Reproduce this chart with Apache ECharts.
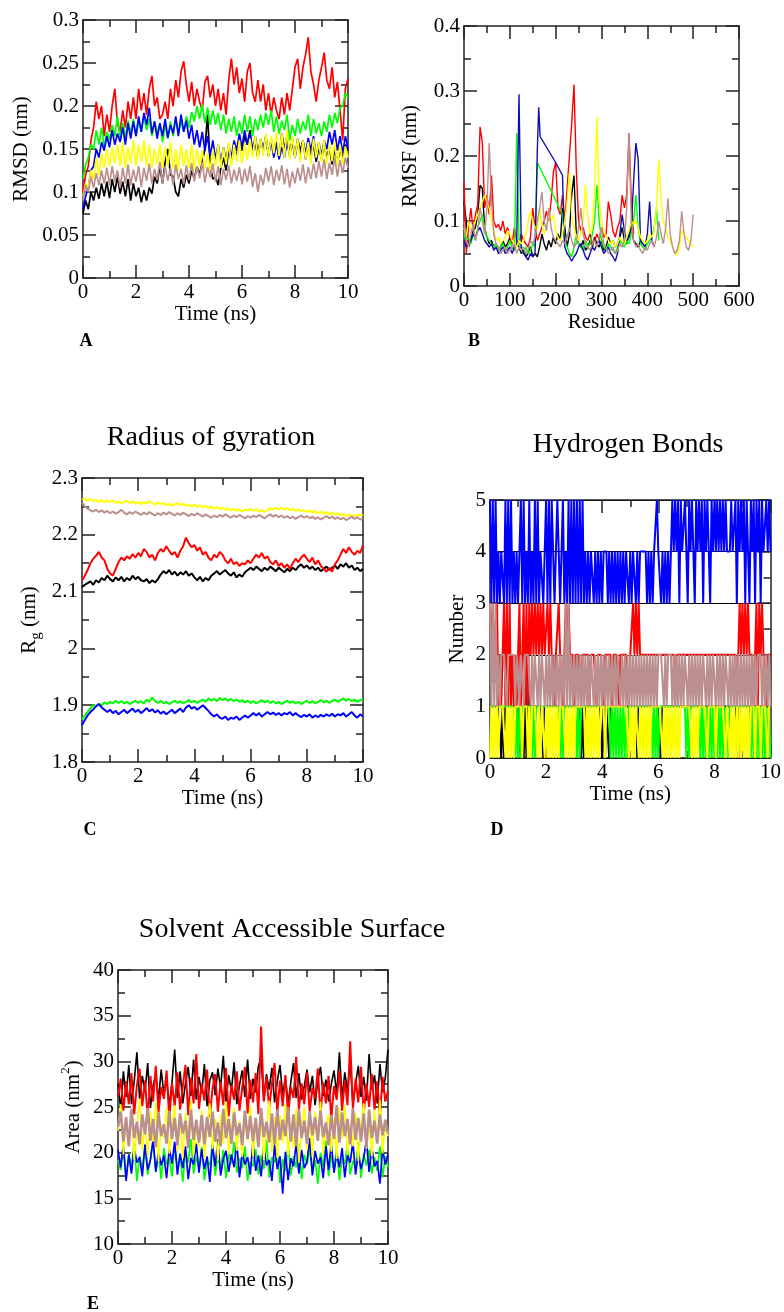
<!DOCTYPE html>
<html><head><meta charset="utf-8">
<script src="https://cdn.jsdelivr.net/npm/echarts@6.0.0/dist/echarts.min.js"></script>
<style>html,body{margin:0;padding:0;background:#fff}#c{width:784px;height:1312px}</style>
</head><body><div id="c"></div><script>
// ---------- Panel A: RMSD (t = 0..10 ns, step 0.1) ----------
const A_BLACK=[0.075,0.09,0.08,0.1,0.09,0.105,0.092,0.11,0.095,0.112,
0.093,0.115,0.1,0.118,0.098,0.112,0.095,0.115,0.09,0.11,
0.095,0.105,0.088,0.102,0.09,0.105,0.098,0.118,0.11,0.13,
0.11,0.135,0.15,0.12,0.118,0.1,0.095,0.115,0.105,0.12,
0.11,0.125,0.115,0.13,0.12,0.135,0.15,0.19,0.13,0.115,
0.118,0.108,0.128,0.14,0.125,0.15,0.135,0.155,0.14,0.16,
0.148,0.165,0.155,0.172,0.145,0.158,0.14,0.16,0.148,0.165,
0.142,0.162,0.145,0.158,0.14,0.168,0.15,0.165,0.145,0.16,
0.14,0.162,0.148,0.16,0.138,0.158,0.142,0.155,0.135,0.152,
0.138,0.155,0.14,0.152,0.132,0.15,0.135,0.148,0.14,0.155,0.148];
const A_RED=[0.1,0.12,0.13,0.16,0.175,0.205,0.185,0.2,0.165,0.19,
0.17,0.2,0.22,0.18,0.17,0.195,0.175,0.205,0.185,0.21,
0.185,0.22,0.195,0.215,0.19,0.22,0.235,0.2,0.21,0.185,
0.19,0.205,0.185,0.22,0.2,0.23,0.21,0.24,0.252,0.225,
0.205,0.228,0.2,0.22,0.205,0.195,0.228,0.235,0.21,0.225,
0.2,0.22,0.195,0.215,0.19,0.23,0.255,0.225,0.245,0.215,
0.232,0.205,0.24,0.25,0.215,0.205,0.23,0.205,0.225,0.195,
0.215,0.19,0.21,0.195,0.185,0.21,0.19,0.215,0.195,0.22,
0.245,0.255,0.22,0.245,0.26,0.28,0.24,0.225,0.205,0.23,
0.245,0.262,0.23,0.22,0.245,0.21,0.228,0.195,0.16,0.22,0.232];
const A_GREEN=[0.115,0.132,0.14,0.155,0.15,0.172,0.155,0.175,0.152,0.17,
0.16,0.178,0.165,0.188,0.162,0.18,0.163,0.183,0.168,0.185,
0.165,0.182,0.17,0.188,0.172,0.185,0.165,0.182,0.168,0.18,
0.158,0.178,0.162,0.182,0.165,0.185,0.168,0.183,0.17,0.188,
0.175,0.193,0.182,0.2,0.185,0.202,0.18,0.198,0.178,0.195,
0.178,0.192,0.172,0.19,0.168,0.185,0.17,0.188,0.165,0.183,
0.168,0.19,0.17,0.188,0.165,0.185,0.172,0.19,0.175,0.192,
0.178,0.195,0.17,0.188,0.168,0.183,0.172,0.19,0.16,0.178,
0.165,0.185,0.168,0.182,0.172,0.19,0.165,0.185,0.168,0.18,
0.165,0.182,0.17,0.19,0.175,0.192,0.18,0.198,0.2,0.215,0.21];
const A_BLUE=[0.08,0.095,0.105,0.125,0.13,0.15,0.14,0.158,0.148,0.165,
0.152,0.172,0.155,0.168,0.158,0.175,0.155,0.18,0.162,0.182,
0.165,0.188,0.17,0.192,0.178,0.198,0.168,0.182,0.162,0.18,
0.165,0.185,0.163,0.178,0.168,0.188,0.165,0.19,0.17,0.183,
0.162,0.178,0.155,0.172,0.152,0.17,0.148,0.165,0.142,0.16,
0.138,0.155,0.135,0.152,0.137,0.155,0.14,0.16,0.148,0.168,
0.152,0.172,0.155,0.168,0.148,0.165,0.145,0.162,0.15,0.165,
0.142,0.16,0.14,0.157,0.138,0.152,0.14,0.158,0.142,0.162,
0.14,0.158,0.143,0.16,0.145,0.163,0.148,0.165,0.14,0.158,
0.142,0.16,0.15,0.17,0.155,0.172,0.148,0.165,0.145,0.165,0.15];
const A_YELLOW=[0.095,0.11,0.105,0.125,0.115,0.14,0.12,0.145,0.128,0.15,
0.13,0.152,0.133,0.155,0.13,0.158,0.128,0.152,0.133,0.16,
0.13,0.155,0.135,0.16,0.13,0.155,0.128,0.15,0.132,0.155,
0.128,0.152,0.13,0.158,0.127,0.15,0.125,0.155,0.13,0.15,
0.128,0.155,0.125,0.15,0.13,0.148,0.127,0.145,0.125,0.15,
0.13,0.155,0.128,0.152,0.132,0.158,0.13,0.155,0.135,0.16,
0.133,0.157,0.137,0.162,0.14,0.165,0.138,0.163,0.142,0.168,
0.14,0.165,0.145,0.17,0.142,0.168,0.14,0.172,0.138,0.165,
0.14,0.162,0.135,0.16,0.138,0.158,0.133,0.162,0.14,0.158,
0.135,0.16,0.132,0.155,0.136,0.158,0.13,0.155,0.133,0.153,0.14];
const A_BROWN=[0.09,0.108,0.1,0.118,0.105,0.122,0.108,0.125,0.11,0.128,
0.108,0.13,0.112,0.125,0.105,0.128,0.11,0.132,0.108,0.126,
0.112,0.13,0.106,0.128,0.113,0.133,0.11,0.127,0.114,0.135,
0.11,0.13,0.113,0.128,0.108,0.132,0.115,0.127,0.109,0.131,
0.114,0.134,0.112,0.13,0.116,0.135,0.111,0.129,0.117,0.133,
0.112,0.13,0.108,0.127,0.114,0.131,0.11,0.126,0.113,0.129,
0.109,0.127,0.112,0.13,0.106,0.122,0.1,0.12,0.108,0.128,
0.112,0.13,0.108,0.126,0.113,0.131,0.109,0.127,0.105,0.124,
0.11,0.128,0.113,0.132,0.11,0.129,0.115,0.133,0.116,0.136,
0.118,0.138,0.115,0.134,0.12,0.14,0.118,0.137,0.122,0.14,0.128];

// ---------- Panel B: RMSF per residue (step 5 unless x list given) ----------
const B_BLACK=[0.13,0.1,0.06,0.07,0.085,0.09,0.11,0.155,0.15,0.09,
0.075,0.065,0.07,0.06,0.065,0.055,0.06,0.07,0.06,0.065,
0.075,0.06,0.055,0.065,0.06,0.05,0.055,0.045,0.05,0.06,
0.045,0.05,0.045,0.06,0.08,0.065,0.055,0.07,0.06,0.075,
0.065,0.08,0.07,0.12,0.09,0.06,0.08,0.14,0.17,0.08,
0.065,0.06,0.07,0.055,0.06,0.07,0.06,0.075,0.065,0.06,
0.07,0.055,0.06,0.075,0.065,0.07,0.06,0.065,0.075,0.09,
0.07,0.065,0.08,0.095,0.07,0.065,0.06,0.07,0.065];
const B_RED=[0.16,0.05,0.09,0.12,0.085,0.11,0.125,0.245,0.22,0.12,
0.14,0.11,0.17,0.1,0.09,0.095,0.085,0.1,0.08,0.09,
0.075,0.065,0.09,0.07,0.065,0.08,0.07,0.065,0.06,0.075,
0.12,0.09,0.07,0.08,0.09,0.1,0.115,0.1,0.13,0.175,
0.19,0.12,0.11,0.14,0.1,0.15,0.2,0.25,0.31,0.18,
0.1,0.085,0.09,0.075,0.07,0.08,0.065,0.07,0.08,0.07,
0.09,0.075,0.08,0.13,0.11,0.085,0.075,0.09,0.1,0.14,
0.12,0.14,0.235,0.13,0.08];
const B_GREEN_X=[0,5,10,15,20,25,30,35,40,45,50,55,60,65,70,75,80,85,90,95,100,105,110,115,120,125,130,135,140,145,150,155,160,
215,220,225,230,235,240,245,250,255,260,265,270,275,280,285,290,295,300,305,310,315,320,325,330,335,340,345,350,355,360,365,370,375,380,385,390,395,400,405,410,415,420,425];
const B_GREEN=[0.08,0.07,0.075,0.065,0.08,0.07,0.09,0.1,0.11,0.09,
0.075,0.07,0.065,0.06,0.065,0.055,0.06,0.065,0.055,0.06,
0.07,0.06,0.055,0.235,0.07,0.055,0.05,0.06,0.05,0.055,
0.065,0.06,0.19,
0.11,
0.07,0.06,0.05,0.045,0.06,0.08,0.065,0.06,0.055,0.07,
0.06,0.065,0.08,0.1,0.155,0.1,0.07,0.06,0.055,0.065,
0.06,0.055,0.05,0.06,0.07,0.065,0.06,0.07,0.065,0.08,
0.1,0.14,0.09,0.065,0.06,0.055,0.065,0.07,0.075,0.09,
0.12,0.07];
const B_BLUE_X=[0,5,10,15,20,25,30,35,40,45,50,55,60,65,70,75,80,85,90,95,100,105,110,115,120,125,130,135,140,145,150,155,
160,163,166,200,215,218,
220,225,230,235,240,245,250,255,260,265,270,275,280,285,290,295,300,305,310,315,320,325,330,335,340,345,350,355,360,365,370,375,380,385,390,395,400,405,410,415];
const B_BLUE=[0.07,0.06,0.065,0.07,0.08,0.075,0.085,0.09,0.08,0.07,
0.065,0.06,0.065,0.055,0.06,0.05,0.055,0.06,0.05,0.055,
0.06,0.05,0.06,0.065,0.295,0.06,0.05,0.045,0.04,0.05,
0.045,0.05,
0.21,0.275,0.23,0.19,0.17,0.08,
0.06,0.05,0.045,0.038,0.045,0.05,0.06,0.065,0.055,0.045,
0.04,0.05,0.06,0.055,0.065,0.07,0.06,0.05,0.055,0.06,
0.05,0.045,0.038,0.05,0.08,0.11,0.085,0.07,0.075,0.09,
0.16,0.22,0.195,0.07,0.065,0.06,0.08,0.13,0.07,0.06];
const B_YELLOW=[0.09,0.075,0.1,0.085,0.09,0.1,0.11,0.12,0.13,0.14,
0.13,0.12,0.1,0.085,0.07,0.075,0.065,0.07,0.075,0.085,
0.08,0.07,0.065,0.06,0.07,0.065,0.07,0.08,0.1,0.115,
0.1,0.09,0.085,0.12,0.095,0.08,0.09,0.11,0.1,0.11,
0.085,0.075,0.07,0.08,0.1,0.13,0.175,0.11,0.09,0.075,
0.07,0.08,0.1,0.155,0.11,0.08,0.09,0.15,0.26,0.13,
0.1,0.085,0.075,0.07,0.065,0.07,0.06,0.065,0.075,0.07,
0.065,0.075,0.085,0.1,0.095,0.1,0.09,0.075,0.07,0.065,
0.07,0.08,0.075,0.085,0.12,0.195,0.13,0.1,0.09,0.075,
0.07,0.06,0.05,0.048,0.06,0.085,0.08,0.075,0.07,0.065,0.06];
const B_BROWN=[0.1,0.07,0.06,0.08,0.095,0.07,0.085,0.12,0.1,0.08,
0.12,0.22,0.13,0.08,0.065,0.06,0.05,0.055,0.06,0.05,
0.055,0.06,0.065,0.05,0.06,0.055,0.06,0.05,0.055,0.07,
0.065,0.075,0.1,0.12,0.145,0.1,0.085,0.12,0.09,0.075,
0.07,0.065,0.06,0.07,0.065,0.075,0.09,0.07,0.06,0.065,
0.09,0.12,0.08,0.065,0.06,0.055,0.065,0.07,0.06,0.075,
0.09,0.065,0.06,0.05,0.055,0.06,0.05,0.055,0.065,0.06,
0.07,0.12,0.235,0.1,0.07,0.06,0.065,0.055,0.05,0.06,
0.055,0.065,0.07,0.06,0.075,0.1,0.08,0.065,0.09,0.135,
0.08,0.06,0.05,0.055,0.07,0.115,0.08,0.06,0.055,0.07,0.11];

// ---------- Panel C: Radius of gyration (step 0.1 ns) ----------
const C_BLACK=[2.108,2.112,2.115,2.118,2.112,2.12,2.116,2.124,2.12,2.128,
2.122,2.118,2.125,2.12,2.126,2.118,2.124,2.12,2.128,2.122,
2.126,2.12,2.118,2.122,2.115,2.12,2.116,2.122,2.13,2.136,
2.132,2.138,2.13,2.135,2.128,2.134,2.13,2.136,2.128,2.132,
2.125,2.12,2.126,2.118,2.124,2.12,2.128,2.132,2.136,2.13,
2.134,2.138,2.132,2.128,2.134,2.125,2.13,2.126,2.134,2.138,
2.142,2.138,2.144,2.14,2.136,2.142,2.138,2.144,2.14,2.136,
2.142,2.138,2.134,2.14,2.136,2.142,2.138,2.144,2.148,2.142,
2.146,2.14,2.144,2.138,2.142,2.136,2.14,2.144,2.138,2.142,
2.146,2.14,2.148,2.144,2.15,2.142,2.146,2.138,2.142,2.136,2.14];
const C_RED=[2.12,2.128,2.138,2.15,2.158,2.163,2.17,2.16,2.155,2.14,
2.132,2.128,2.14,2.152,2.16,2.155,2.162,2.158,2.166,2.16,
2.168,2.162,2.175,2.17,2.16,2.165,2.155,2.168,2.175,2.17,
2.18,2.172,2.165,2.17,2.16,2.172,2.18,2.195,2.185,2.178,
2.182,2.172,2.178,2.165,2.17,2.16,2.155,2.165,2.16,2.17,
2.165,2.155,2.15,2.158,2.148,2.152,2.145,2.15,2.148,2.155,
2.15,2.158,2.165,2.16,2.168,2.158,2.162,2.152,2.148,2.155,
2.145,2.15,2.142,2.148,2.14,2.15,2.158,2.152,2.16,2.165,
2.158,2.152,2.16,2.148,2.155,2.145,2.14,2.135,2.142,2.135,
2.148,2.155,2.165,2.175,2.168,2.178,2.17,2.165,2.172,2.168,2.182];
const C_GREEN=[1.875,1.882,1.888,1.895,1.9,1.898,1.902,1.9,1.905,1.902,
1.906,1.903,1.908,1.904,1.907,1.903,1.906,1.902,1.905,1.908,
1.904,1.907,1.903,1.91,1.906,1.914,1.907,1.904,1.908,1.903,
1.906,1.902,1.905,1.908,1.904,1.907,1.903,1.906,1.909,1.905,
1.908,1.904,1.907,1.91,1.906,1.912,1.908,1.911,1.907,1.913,
1.909,1.912,1.908,1.911,1.907,1.91,1.906,1.909,1.905,1.908,
1.904,1.907,1.903,1.906,1.909,1.905,1.908,1.904,1.907,1.903,
1.906,1.902,1.905,1.908,1.904,1.907,1.903,1.906,1.902,1.905,
1.908,1.904,1.907,1.903,1.906,1.909,1.905,1.908,1.904,1.907,
1.91,1.906,1.909,1.912,1.908,1.911,1.907,1.91,1.906,1.909,1.911];
const C_BLUE=[1.865,1.874,1.882,1.888,1.893,1.898,1.902,1.896,1.892,1.888,
1.892,1.886,1.89,1.884,1.888,1.892,1.886,1.89,1.894,1.888,
1.892,1.886,1.89,1.895,1.889,1.893,1.887,1.891,1.885,1.889,
1.884,1.888,1.892,1.886,1.89,1.894,1.888,1.896,1.9,1.894,
1.897,1.892,1.896,1.9,1.895,1.89,1.884,1.88,1.884,1.878,
1.876,1.88,1.874,1.878,1.876,1.88,1.874,1.878,1.882,1.878,
1.882,1.886,1.882,1.886,1.88,1.884,1.888,1.884,1.887,1.883,
1.886,1.882,1.886,1.884,1.888,1.882,1.886,1.882,1.879,1.883,
1.88,1.884,1.878,1.882,1.879,1.883,1.88,1.884,1.881,1.885,
1.88,1.884,1.882,1.886,1.88,1.884,1.888,1.882,1.878,1.884,1.88];
const C_YELLOW=[2.262,2.264,2.26,2.263,2.259,2.262,2.258,2.261,2.257,2.26,
2.258,2.261,2.256,2.259,2.255,2.258,2.26,2.256,2.259,2.255,
2.257,2.254,2.258,2.255,2.259,2.256,2.253,2.257,2.254,2.256,
2.252,2.255,2.251,2.254,2.256,2.252,2.255,2.251,2.253,2.25,
2.253,2.249,2.252,2.248,2.251,2.247,2.25,2.246,2.249,2.245,
2.248,2.244,2.247,2.243,2.246,2.242,2.245,2.241,2.244,2.243,
2.246,2.242,2.245,2.241,2.244,2.24,2.243,2.247,2.244,2.248,
2.245,2.248,2.244,2.247,2.243,2.246,2.242,2.245,2.241,2.244,
2.24,2.243,2.239,2.242,2.238,2.241,2.237,2.24,2.236,2.239,
2.235,2.238,2.234,2.237,2.233,2.236,2.232,2.235,2.233,2.236,2.234];
const C_BROWN=[2.257,2.25,2.246,2.243,2.241,2.244,2.24,2.243,2.239,2.242,
2.238,2.241,2.237,2.24,2.244,2.239,2.236,2.24,2.237,2.241,
2.238,2.235,2.239,2.236,2.24,2.237,2.234,2.238,2.235,2.239,
2.236,2.24,2.237,2.234,2.238,2.235,2.239,2.236,2.233,2.237,
2.234,2.238,2.235,2.232,2.236,2.233,2.23,2.234,2.231,2.235,
2.232,2.236,2.233,2.23,2.234,2.231,2.235,2.232,2.229,2.233,
2.23,2.234,2.231,2.235,2.232,2.229,2.233,2.236,2.232,2.235,
2.231,2.234,2.23,2.233,2.229,2.232,2.228,2.231,2.234,2.23,
2.233,2.229,2.232,2.228,2.231,2.227,2.23,2.233,2.229,2.232,
2.228,2.231,2.227,2.23,2.226,2.229,2.232,2.228,2.231,2.227,2.229];

// ---------- Panel D: Hydrogen bond counts (step 0.05 ns) ----------
const D_BLACK=[1,1,1,1,1,1,1,1,0,1, 0,1,1,1,1,1,1,1,1,1, 0,1,0,1,0,1,0,2,1,1, 1,1,1,1,1,1,1,1,0,1,
1,1,1,1,1,1,2,1,1,1, 0,1,1,1,1,1,1,1,1,1, 1,1,1,1,1,0,1,0,1,1, 1,1,1,1,1,1,1,1,1,1,
0,1,0,1,1,0,1,1,1,1, 1,1,1,1,1,1,1,1,1,1, 1,1,1,1,1,0,1,1,1,1, 1,1,1,1,1,1,1,1,1,1,
1,1,0,1,1,1,1,1,1,1, 1,1,1,1,1,1,1,1,1,1, 1,1,1,1,1,1,1,1,1,1, 1,1,1,1,1,1,1,1,1,1,
1,1,1,1,1,1,1,1,1,1, 1,1,1,1,1,1,1,0,1,1, 1,1,1,1,1,1,1,1,1,1, 1,1,1,1,1,1,1,1,1,1, 1];
const D_RED=[3,2,3,2,2,3, 1,2,1,2, 3,1,3,1,3,1, 2,1,2,1,2, 3,1,2, 3,1,3,1, 3,2,3,2,3,2,3,2,3,2, 3,2,2,3,2,3,
2,2,1,2,2,3,2,2,1,2, 3,2,3,2,
2,2,1,2,2,2,2,1,2,2, 2,2,2,1,2,2,2,2,1,2, 2,2,2,1,2,2,2,2,2,1, 2,2,2,2,1,2,2,2,2,2, 2,1,2,2,
3,2,3,2,3,2,
2,2,2,2,2,2,2,2,2,2, 2,2,2,2,2,2,2,2,2,2, 2,2,2,2,1,2,2,2,2,2, 2,2,2,2,2,2,2,2,2,2,
2,2,2,2,2,2,2,2,2,2, 2,2,2,2,2,2,2,2,2,2, 2,2,2,2,2,2,2,2,1,2,
3,2,3,2,3,2,3,2, 2,2,1,2, 3,1,3,2,3, 2,2,1,2,2,2];
const D_GREEN=[1,1,1,1,1,1,1,1,1,1, 1,1,1,1,1,1,1,1,0,1, 0,1,0,1,1,1,1,1,1,1, 0,1,0,1,1,1,1,1,1,1,
1,1,1,1,1,1,1,1,1,1, 0,1,0,1,1,1,1,1,1,1, 1,1,0,1,0,1,1,1,1,1, 1,1,1,1,1,1,1,1,1,1,
1,1,1,1,1,1,0,1,0,1, 0,1,0,1,0,1,0,1,0,1, 1,1,1,1,1,1,1,1,1,1, 1,1,1,1,1,1,0,1,0,1,
0,1,1,1,1,1,1,1,1,1, 1,1,1,1,1,1,1,1,1,1, 0,1,0,1,1,1,1,1,1,1, 0,1,0,1,0,1,0,1,0,1,
0,1,0,1,0,1,0,1,0,1, 0,1,1,1,1,1,1,1,1,1, 1,1,1,1,1,1,0,1,0,1, 0,1,0,1,0,1,0,1,0,1, 0];
const D_BLUE=[5,3,5,3,5,3, 4,3,4,4,3, 5,3,5,3,5, 3,4,3,4,3,4, 5,3,5, 3,4,3,5,3,4,3, 5,3,5,3, 4,4,3,4,
5,3,5,3,5, 4,3,4,5,4,3,4, 5,3,4,3,5,3,5,3, 5,3,5,3,5,3,5,
3,4,3,4,3,4,4,3,4,3,4,3,4,3,4,4,4,3,4,3,4,3,4,3,4,3,4,3,4,3,4,4,
3,4,3,4,4,3,4,3,4, 4,4,4,4, 3,4,3,4,3, 4,4,5,4,4, 3,4,3,4,3,4,3,4,
5,4,5,4,5,3,5,4,4,5, 4,3,5,4,5,4,3,5,4,5, 4,5,3,5,4,5,4,3,5,4, 5,4,5,4,5,4,5,4,5,4,
4,4,5,4,4,5,3,5,4,5, 4,5,3,5,4,3,5,4,5,3, 5,4,5,3,5,4,4,5,4,5, 4];
const D_YELLOW=[0,1,0,1,0,1,0,1,1,1, 1,0,1,0,1,0,1,0,1,1, 1,1,1,0,1,1,1,0,1,0, 1,1,1,1,0,1,0,1,1,0,
1,0,1,0,1,0,1,0,1,0, 1,1,1,1,0,1,0,1,0,1, 0,1,1,1,1,1,1,1,0,1, 0,1,0,1,0,1,0,1,0,1,
1,1,0,1,1,1,1,1,1,1, 1,1,1,1,1,1,1,1,1,0, 1,0,1,0,1,1,0,1,0,1, 0,1,0,1,0,1,1,1,1,1,
1,1,1,0,1,0,1,0,1,0, 1,0,1,0,1,0,1,1,1,1, 1,1,1,1,0,1,0,1,0,1, 1,1,1,1,1,0,1,1,1,1,
1,0,1,1,1,1,1,1,0,1, 1,0,1,0,1,0,1,0,1,0, 1,0,1,0,1,0,1,1,1,0, 1,1,1,0,1,1,1,1,0,1, 1];
const D_BROWN=[3,1,3,1,3,1, 2,1,2,2,2,2,1,2,2,2,2,2,1,2, 2,1,2,2,1,2,2,2,2,1,2,1,2,2,1,2,1,2,
2,1,2,1,2,1,2,1,2,1,2,1,2,1,2,1, 3,1,3,1,
2,1,2,1,2,1,2,1,2,1, 2,1,2,1,2,2,1,2,1,2, 1,2,1,2,1,2,1,2,1,2, 1,2,1,2,2,1,2,1,2,1,
2,1,2,1,2,1,2,1,2,1, 2,1,2,1,2,1,2,1,2,1, 2,1,2,2,2,2,1,2,1,2, 2,2,1,2,1,2,1,2,1,2,
1,2,2,1,2,1,2,1,2,1, 2,1,2,1,2,2,1,2,1,2, 1,2,2,1,2,1,2,1,2,1, 2,2,1,2,1,2,1,2,1,2,
1,2,1,2,1,2,1,2,1,2, 1,2,1,2,2,2,1,2,1,2, 1,2,1];

// ---------- Panel E: SASA (step 0.1 ns) ----------
const E_BLACK=[27.5,24.8,28.9,26.1,29.6,25.3,27.8,31.0,25.9,28.4,
26.7,29.8,24.9,27.3,28.6,25.7,29.1,26.4,28.0,25.2,
27.7,31.3,26.0,28.9,25.4,27.6,29.4,26.2,30.2,25.8,
28.3,26.5,29.7,25.1,27.9,28.8,26.3,29.2,27.1,30.6,
25.6,28.5,26.8,29.9,25.3,27.4,29.0,26.1,30.2,25.9,
28.1,26.6,29.5,30.4,25.7,28.6,26.9,29.3,25.5,27.8,
29.6,26.3,28.2,25.4,27.7,29.8,26.0,28.7,25.8,27.3,
29.1,26.6,28.4,25.2,27.9,29.4,26.2,28.0,25.6,27.5,
29.0,26.4,31.0,25.9,28.8,26.7,30.1,25.3,27.6,29.5,
26.1,28.3,25.7,30.8,26.9,28.5,25.4,29.7,26.6,28.2,31.3];
const E_RED=[26.2,28.1,24.6,27.8,25.3,28.7,24.2,27.4,29.2,25.1,
27.9,23.8,28.4,25.6,29.5,24.4,27.2,25.9,29.0,23.6,
27.6,25.0,28.8,24.7,27.3,29.6,24.1,28.2,25.4,30.8,
24.8,27.5,25.7,29.1,23.9,27.0,28.6,24.5,27.8,25.2,
29.3,24.0,27.4,25.8,28.9,24.6,27.1,29.4,24.3,28.0,
25.5,28.7,24.2,33.8,25.6,28.3,24.9,27.5,29.8,24.4,
27.9,25.1,28.5,24.0,27.2,26.0,30.5,24.7,27.6,25.3,
28.8,24.5,27.1,25.9,29.2,24.1,27.7,25.4,28.4,23.7,
27.3,25.8,29.0,24.6,27.9,25.2,32.2,24.8,28.1,25.5,
29.4,24.2,27.6,25.0,28.6,24.7,27.8,23.9,28.3,25.6,26.8];
const E_GREEN=[19.2,18.1,20.4,17.3,19.8,18.5,21.0,16.9,19.6,18.2,
20.8,17.6,19.3,21.3,18.0,19.9,17.1,20.5,18.7,19.4,
17.4,20.9,18.3,19.7,16.8,20.2,18.9,21.5,17.7,19.5,
18.4,20.6,17.0,19.1,18.6,21.1,17.5,19.8,18.1,20.3,
17.2,19.9,18.8,21.2,17.8,19.4,18.3,20.7,16.9,19.0,
18.5,20.4,17.6,19.7,18.2,21.4,17.3,19.5,18.9,20.1,
16.7,19.3,18.0,20.8,17.5,19.6,18.4,21.0,17.1,19.8,
18.7,20.5,17.8,19.2,16.6,20.0,18.5,21.3,17.4,19.7,
18.1,20.6,17.0,19.4,18.8,20.9,17.6,19.1,18.3,21.1,
17.2,19.9,18.6,20.3,17.7,19.5,18.0,20.7,17.3,19.6,18.4];
const E_BLUE=[20.3,18.4,21.0,16.9,19.8,17.7,20.6,18.9,19.5,17.4,
20.9,18.1,19.2,21.4,17.9,20.1,18.6,19.7,17.2,20.5,
18.8,21.2,17.6,19.9,18.3,20.7,17.1,19.4,18.7,21.0,
17.8,20.4,18.2,19.6,16.8,20.8,18.5,21.5,17.5,19.3,
20.2,17.9,19.8,18.4,21.1,17.3,20.0,18.7,19.5,17.6,
21.3,18.0,19.7,17.4,20.6,18.6,19.2,16.9,20.9,18.2,
19.6,15.5,20.1,17.0,19.4,18.5,21.0,17.7,20.3,18.3,
19.0,21.6,17.5,20.2,18.8,19.5,17.2,20.7,18.1,21.1,
17.8,19.9,18.4,20.5,17.3,19.7,18.9,21.2,17.6,20.0,
18.2,19.4,21.4,17.9,20.6,18.5,19.1,16.6,20.4,18.7,19.8];
const E_YELLOW=[22.4,25.3,19.8,23.6,20.9,24.8,19.2,22.7,25.9,20.3,
23.4,19.6,24.5,21.2,25.6,19.0,23.1,21.7,24.9,19.9,
22.8,25.2,20.1,23.8,19.4,24.3,21.5,25.8,19.7,23.0,
20.6,24.7,19.3,22.9,25.4,20.4,23.7,19.1,24.2,21.0,
25.5,19.8,22.6,24.9,20.2,23.5,19.5,24.6,21.3,25.1,
19.6,23.3,20.8,24.4,19.2,22.5,25.7,20.0,23.9,19.4,
24.1,21.1,25.3,19.7,23.2,20.5,24.8,18.9,22.8,25.0,
20.3,23.6,19.5,24.5,21.4,25.6,19.9,22.7,24.2,20.1,
23.8,19.3,24.9,21.6,25.2,19.8,23.0,20.7,24.4,19.1,
22.9,25.4,20.4,23.5,19.6,24.7,21.2,25.8,19.9,23.3,21.8];
const E_BROWN=[22.8,24.5,21.2,23.9,20.7,24.8,21.6,23.4,20.9,24.2,
22.0,24.9,21.3,23.7,20.6,24.4,21.8,23.1,21.0,24.6,
21.5,23.8,20.8,24.3,22.1,23.5,20.5,24.7,21.4,23.6,
21.1,24.1,20.9,23.9,21.7,24.5,21.2,23.3,20.7,24.8,
21.6,23.7,21.0,24.4,21.9,23.2,20.8,24.6,21.5,24.0,
21.3,23.8,20.6,24.9,21.7,23.4,21.1,24.3,20.9,24.7,
21.4,23.6,21.8,25.0,21.2,24.2,20.7,24.8,21.6,23.5,
21.0,24.5,21.9,23.9,21.3,24.6,21.7,23.3,20.8,24.1,
21.5,25.2,21.1,24.4,21.8,23.7,20.9,24.9,21.4,23.8,
21.2,24.3,20.6,24.7,21.6,23.5,21.0,24.2,21.9,23.6,22.1];

// ---------- chart ----------
const FONT = '"Liberation Serif","Times New Roman",serif';
const AX = '#222';
const COL = {black:'#000000', red:'#ff0000', green:'#00ff00', blue:'#0000ff', yellow:'#ffff00', brown:'#bc8f8f'};

function axisPair(kind, g, min, max, interval, name, gap, rich) {
  const common = {
    gridIndex: g, type: 'value', min: min, max: max, interval: interval,
    axisLine: {show: true, onZero: false, lineStyle: {color: AX, width: 1.5}},
    axisTick: {show: true, inside: true, length: 13, lineStyle: {color: AX, width: 1.5}},
    minorTick: {show: true, splitNumber: 2, length: 7, lineStyle: {color: AX, width: 1.5}},
    splitLine: {show: false}
  };
  const main = Object.assign({}, common, {
    position: kind === 'x' ? 'bottom' : 'left',
    axisLabel: {show: true, fontFamily: FONT, fontSize: 21, color: '#000', margin: 4},
    name: name, nameLocation: 'middle', nameGap: gap,
    nameRotate: kind === 'x' ? 0 : 90,
    nameTextStyle: {fontFamily: FONT, fontSize: 21, color: '#000', rich: rich}
  });
  const mirror = Object.assign({}, common, {
    position: kind === 'x' ? 'top' : 'right', axisLabel: {show: false}, name: ''
  });
  return [main, mirror];
}

const richRg = {
  r: {fontFamily: FONT, fontSize: 21, color: '#000', lineHeight: 30, verticalAlign: 'middle'},
  s: {fontFamily: FONT, fontSize: 15, color: '#000', lineHeight: 15, verticalAlign: 'bottom'}
};
const richArea = {
  r: {fontFamily: FONT, fontSize: 21, color: '#000', lineHeight: 28, verticalAlign: 'middle'},
  p: {fontFamily: FONT, fontSize: 13, color: '#000', lineHeight: 13, verticalAlign: 'top'}
};

const xAxis = [].concat(
  axisPair('x', 0, 0, 10, 2, 'Time (ns)', 24),
  axisPair('x', 1, 0, 600, 100, 'Residue', 23.5),
  axisPair('x', 2, 0, 10, 2, 'Time (ns)', 21.5),
  axisPair('x', 3, 0, 10, 2, 'Time (ns)', 23),
  axisPair('x', 4, 0, 10, 2, 'Time (ns)', 23.5)
);
const yAxis = [].concat(
  axisPair('y', 0, 0, 0.3, 0.05, 'RMSD (nm)', 51),
  axisPair('y', 1, 0, 0.4, 0.1, 'RMSF (nm)', 43.5),
  axisPair('y', 2, 1.8, 2.3, 0.1, '{r|R}{s|g}{r| (nm)}', 38, richRg),
  axisPair('y', 3, 0, 5, 1, 'Number', 22.5),
  axisPair('y', 4, 10, 40, 5, '{r|Area (nm}{p|2}{r|)}', 31, richArea)
);
yAxis[6].splitLine = {show: true, lineStyle: {color: '#000', width: 1}};

function line(g, data, color, width) {
  return {type: 'line', xAxisIndex: 2 * g, yAxisIndex: 2 * g, data: data,
    showSymbol: false, symbol: 'none', silent: true, animation: false,
    lineStyle: {color: color, width: width, join: 'bevel'}, itemStyle: {color: color}};
}
const byStep = (arr, step) => arr.map((v, i) => [+(i * step).toFixed(3), v]);
const byX = (xs, ys) => ys.map((v, i) => [xs[i], v]);

const series = [];
// A
[[A_BLACK,'black'],[A_RED,'red'],[A_GREEN,'green'],[A_BLUE,'blue'],[A_YELLOW,'yellow'],[A_BROWN,'brown']]
  .forEach(([a, c]) => series.push(line(0, byStep(a, 0.1), COL[c], 1.7)));
// B
series.push(line(1, byStep(B_BLACK, 5), COL.black, 1.4));
series.push(line(1, byStep(B_RED, 5), COL.red, 1.4));
series.push(line(1, byX(B_GREEN_X, B_GREEN), COL.green, 1.4));
series.push(line(1, byX(B_BLUE_X, B_BLUE), '#1010b0', 1.4));
series.push(line(1, byStep(B_YELLOW, 5), COL.yellow, 1.4));
series.push(line(1, byStep(B_BROWN, 5), COL.brown, 1.4));
// C
[[C_BLACK,'black'],[C_RED,'red'],[C_GREEN,'green'],[C_BLUE,'blue'],[C_YELLOW,'yellow'],[C_BROWN,'brown']]
  .forEach(([a, c]) => series.push(line(2, byStep(a, 0.1), COL[c], 2)));
// D
[[D_BLACK,'black'],[D_RED,'red'],[D_GREEN,'green'],[D_BLUE,'blue'],[D_YELLOW,'yellow'],[D_BROWN,'brown']]
  .forEach(([a, c]) => series.push(line(3, byStep(a, 0.05), COL[c], 2)));
// E
[[E_BLACK,'black',1.6],[E_RED,'red',2.0],[E_GREEN,'green',1.7],[E_BLUE,'blue',1.7],[E_YELLOW,'yellow',1.7],[E_BROWN,'brown',2.6]]
  .forEach(([a, c, w]) => series.push(line(4, byStep(a, 0.1), COL[c], w)));

function txt(x, y, text, size, bold) {
  return {type: 'text', x: x, y: y, silent: true,
    style: {text: text, fill: '#000', font: (bold ? 'bold ' : '') + size + 'px ' + FONT,
      align: 'center', verticalAlign: 'middle', textAlign: 'center', textVerticalAlign: 'middle'}};
}

const option = {
  backgroundColor: '#ffffff',
  animation: false,
  grid: [
    {left: 83, top: 20, width: 265, height: 258},
    {left: 464, top: 26, width: 275, height: 260},
    {left: 82, top: 478, width: 281, height: 284},
    {left: 490, top: 500, width: 284, height: 258},
    {left: 118, top: 970, width: 270, height: 274}
  ],
  xAxis: xAxis,
  yAxis: yAxis,
  series: series,
  graphic: [
    txt(211, 438, 'Radius of gyration', 28, false),
    txt(628, 445, 'Hydrogen Bonds', 28, false),
    txt(292, 930, 'Solvent Accessible Surface', 28, false),
    txt(86, 341, 'A', 18, true),
    txt(474, 341, 'B', 18, true),
    txt(90, 830, 'C', 18, true),
    txt(497, 830, 'D', 18, true),
    txt(93, 1304, 'E', 18, true)
  ]
};
const chart = echarts.init(document.getElementById('c'), null, {renderer: 'canvas'});
chart.setOption(option);
</script></body></html>
